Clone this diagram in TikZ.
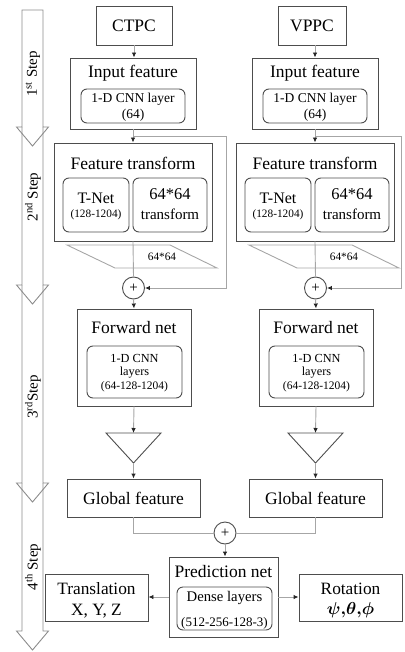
\documentclass[tikz,border=0pt]{standalone}
\usepackage{fontspec}
\usepackage{amsmath}
\setmainfont{Liberation Serif}
\usetikzlibrary{arrows.meta,calc}

\definecolor{boxline}{HTML}{4D4D4D}
\definecolor{wire}{HTML}{A6A6A6}
\definecolor{stepline}{HTML}{8C8C8C}

\tikzset{
  box/.style={draw=boxline, line width=0.9pt, fill=white, inner sep=0pt},
  inbox/.style={box, rounded corners=6pt},
  lbl/.style={inner sep=0pt, text=black},
  fsz/.style={font=\fontsize{#1}{#1}\selectfont},
  wireline/.style={draw=wire, line width=0.9pt},
  feed/.style={wireline, -{Latex[length=5pt,width=4.5pt,color=black!85]}},
  sumnode/.style={circle, draw=boxline, line width=0.9pt, minimum size=22pt,
                  inner sep=0pt, fill=white, font=\fontsize{15}{15}\selectfont},
  stepshape/.style={draw=stepline, line width=0.9pt},
  steplabel/.style={lbl, rotate=90, font=\fontsize{15}{15}\selectfont},
}

\begin{document}
\begin{tikzpicture}[x=1pt,y=-1pt]
\useasboundingbox (0,0) rectangle (404,652);

% ---- step arrows on the left ----
\draw[stepshape] (22,483) -- (22,631) -- (16.5,631) -- (32.5,650) -- (48.5,631) -- (43,631) -- (43,483);
\draw[stepshape] (22,285) -- (22,483) -- (16.5,483) -- (32.5,502) -- (48.5,483) -- (43,483) -- (43,285);
\draw[stepshape] (22,127) -- (22,285) -- (16.5,285) -- (32.5,304) -- (48.5,285) -- (43,285) -- (43,127);
\draw[stepshape] (22,10) -- (22,127) -- (16.5,127) -- (32.5,146) -- (48.5,127) -- (43,127) -- (43,10) -- cycle;
\node[steplabel] (s1) at (33,74)  {1\textsuperscript{st} Step};
\node[steplabel] (s2) at (33,197) {2\textsuperscript{nd} Step};
\node[steplabel] (s3) at (33,397) {3\textsuperscript{rd}Step};
\node[steplabel] (s4) at (33,567) {4\textsuperscript{th} Step};

% ---- point cloud sources ----
\node[box, minimum width=76pt, minimum height=39pt, fsz=17.5] (ctpc) at (134,25.5) {CTPC};
\node[box, minimum width=68pt, minimum height=39pt, fsz=17.5] (vppc) at (312,25.5) {VPPC};

% ---- the two identical branches ----
\foreach \c/\dx/\sx in {l/0/226, r/182/401}{
  % input feature
  \node[box, minimum width=126pt, minimum height=71pt] (\c in) at (133+\dx,93.5) {};
  \node[lbl, fsz=17.5] (\c intitle) at (133+\dx,73) {Input feature};
  \node[inbox, minimum width=104pt, minimum height=34pt] (\c incnn) at (133+\dx,106) {};
  \node[lbl, fsz=13.5] (\c incnnA) at (133+\dx,99) {1-D CNN layer};
  \node[lbl, fsz=13.5] (\c incnnB) at (133+\dx,115) {(64)};

  % feature transform
  \node[box, minimum width=158pt, minimum height=98pt] (\c ft) at (133+\dx,192) {};
  \node[lbl, fsz=17.5] (\c fttitle) at (133+\dx,163) {Feature transform};
  \node[inbox, minimum width=66pt, minimum height=54pt] (\c tnet) at (96+\dx,205) {};
  \node[lbl, fsz=16] (\c tnetA) at (96+\dx,198.5) {T-Net};
  \node[lbl, fsz=11.3] (\c tnetB) at (96+\dx,215) {(128-1204)};
  \node[inbox, minimum width=74pt, minimum height=54pt] (\c mat) at (170+\dx,205) {};
  \node[lbl, fsz=16.5] (\c matA) at (170+\dx,194) {64*64};
  \node[lbl, fsz=15] (\c matB) at (170+\dx,214) {transform};

  % 64x64 matrix output
  \draw[wireline] (67+\dx,245) -- (170+\dx,245) -- (217+\dx,268) -- (115+\dx,268) -- cycle;
  \node[lbl, fsz=11.3] (\c matout) at (162+\dx,257) {64*64};

  % feature addition
  \node[sumnode] (\c sum) at (133.5+\dx,288) {+};

  % forward net
  \node[box, minimum width=114pt, minimum height=97pt] (\c fw) at (134+\dx,357.5) {};
  \node[lbl, fsz=17.5] (\c fwtitle) at (134+\dx,328) {Forward net};
  \node[inbox, minimum width=95pt, minimum height=52pt] (\c fwcnn) at (134.5+\dx,372) {};
  \node[lbl, fsz=12.3] (\c fwA) at (134.5+\dx,358) {1-D CNN};
  \node[lbl, fsz=12.3] (\c fwB) at (134.5+\dx,373) {layers};
  \node[lbl, fsz=11.5] (\c fwC) at (134.5+\dx,387) {(64-128-1204)};

  % max pooling
  \draw[draw=boxline, line width=0.9pt] (106+\dx,433) -- (161+\dx,433) -- (133.5+\dx,463) -- cycle;
  \coordinate (\c tritop) at (133.5+\dx,433);
  \coordinate (\c triapex) at (133.5+\dx,463);

  % global feature
  \node[box, minimum width=133pt, minimum height=38pt, fsz=17.5] (\c gf) at (133.5+\dx,498) {Global feature};

  % connectors in the branch
  \draw[feed] (\c in.south) -- (\c ft.north);
  \coordinate (\c skipA) at (133+\dx,136);
  \coordinate (\c skipB) at (\sx,136);
  \coordinate (\c skipC) at (\sx,288);
  \draw[feed] (\c skipA) -- (\c skipB) -- (\c skipC) -- (\c sum.east);
  \draw[wireline] (\c ft.south) -- (\c sum.north);
  \draw[feed] (\c sum.south) -- (\c fw.north);
  \draw[feed] (\c fw.south) -- (\c tritop);
  \draw[feed] (\c triapex) -- (\c gf.north);
}

\draw[feed] (ctpc.south) -- (ctpc.south |- lin.north);
\draw[feed] (vppc.south -| rin.north) -- (rin.north);

% ---- prediction ----
\node[sumnode] (jsum) at (225,533) {+};
\node[box, minimum width=109pt, minimum height=80pt] (pred) at (223.5,597) {};
\node[lbl, fsz=17.5] (predtitle) at (223.5,572) {Prediction net};
\node[inbox, minimum width=95pt, minimum height=43pt] (dense) at (224.5,608.5) {};
\node[lbl, fsz=14.7] (denseA) at (224.5,598) {Dense layers};
\node[lbl, fsz=13] (denseB) at (224.5,623) {(512-256-128-3)};

\node[box, minimum width=103pt, minimum height=47pt] (trans) at (96.5,597.5) {};
\node[lbl, fsz=17.3] (transA) at (96.5,588.5) {Translation};
\node[lbl, fsz=17.3] (transB) at (96.5,611) {X, Y, Z};

\node[box, minimum width=103pt, minimum height=47pt] (rot) at (350.5,597.5) {};
\node[lbl, fsz=17.3] (rotA) at (350.5,588.5) {Rotation};
\node[lbl, fsz=17.3] (rotB) at (350.5,610) {$\boldsymbol{\psi{,}\theta{,}\phi}$};

\draw[wireline] (lgf.south) |- (jsum.west);
\draw[wireline] (rgf.south) |- (jsum.east);
\draw[feed] (jsum.south) -- (jsum.south |- pred.north);
\draw[feed] (pred.west) -- (pred.west -| trans.east);
\draw[feed] (pred.east) -- (pred.east -| rot.west);
\end{tikzpicture}
\end{document}
